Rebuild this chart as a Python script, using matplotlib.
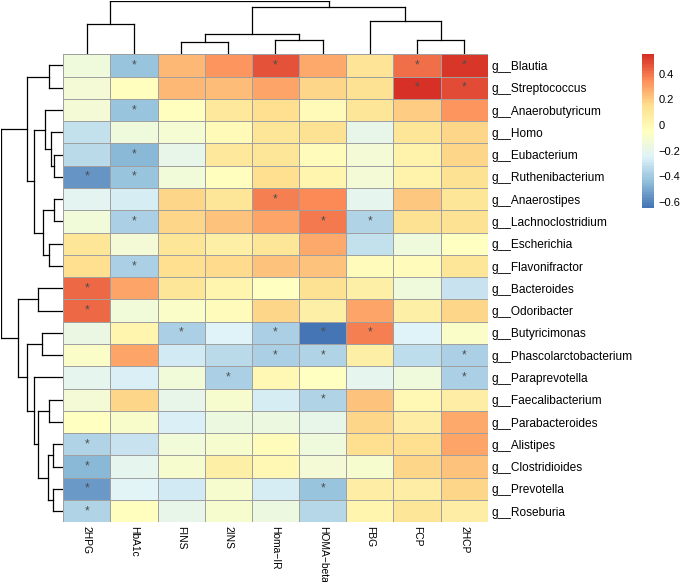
import numpy as np
import matplotlib
matplotlib.use("Agg")
import matplotlib.pyplot as plt
from matplotlib.colors import LinearSegmentedColormap, Normalize

plt.rcParams['font.family'] = ['Liberation Sans', 'DejaVu Sans']

# ---------------- data ----------------
columns = ["2HPG", "HbA1c", "FINS", "2INS", "Homa\u2212IR", "HOMA\u2212beta", "FBG", "FCP", "2HCP"]
rows = ["g__Blautia", "g__Streptococcus", "g__Anaerobutyricum", "g__Homo", "g__Eubacterium",
        "g__Ruthenibacterium", "g__Anaerostipes", "g__Lachnoclostridium", "g__Escherichia",
        "g__Flavonifractor", "g__Bacteroides", "g__Odoribacter", "g__Butyricimonas",
        "g__Phascolarctobacterium", "g__Paraprevotella", "g__Faecalibacterium",
        "g__Parabacteroides", "g__Alistipes", "g__Clostridioides", "g__Prevotella", "g__Roseburia"]

values = np.array([
    [-0.15, -0.42,  0.25,  0.33,  0.48,  0.28,  0.13,  0.42,  0.53],
    [-0.13, -0.04,  0.25,  0.23,  0.30,  0.17,  0.14,  0.552, 0.49],
    [-0.13, -0.42, -0.04,  0.10,  0.15, -0.02,  0.12,  0.20,  0.33],
    [-0.32, -0.15, -0.11, -0.02,  0.12,  0.14, -0.20,  0.12,  0.18],
    [-0.34, -0.46, -0.20,  0.10,  0.12, -0.03, -0.13,  0.03,  0.18],
    [-0.56, -0.42, -0.14, -0.04,  0.15,  0.02, -0.13,  0.03,  0.14],
    [-0.22, -0.27,  0.18,  0.12,  0.38,  0.36, -0.21,  0.21,  0.12],
    [-0.14, -0.38,  0.18,  0.22,  0.30,  0.39, -0.37,  0.14,  0.14],
    [ 0.12, -0.13,  0.12,  0.05,  0.12,  0.28, -0.32, -0.15, -0.05],
    [ 0.15, -0.38,  0.15,  0.16,  0.22,  0.22, -0.03, -0.03,  0.12],
    [ 0.43,  0.30,  0.12,  0.02, -0.05,  0.14,  0.05, -0.15, -0.30],
    [ 0.43, -0.14, -0.08, -0.03,  0.17,  0.06,  0.30,  0.05,  0.17],
    [-0.17,  0.02, -0.38, -0.25, -0.38, -0.646, 0.38, -0.25, -0.08],
    [-0.08,  0.30, -0.28, -0.34, -0.38, -0.36,  0.05, -0.33, -0.38],
    [-0.21, -0.26, -0.14, -0.38, -0.01, -0.05, -0.21, -0.15, -0.38],
    [-0.13,  0.17, -0.20, -0.10, -0.27, -0.37,  0.22, -0.01,  0.07],
    [-0.05, -0.09, -0.26, -0.16, -0.16, -0.20,  0.17,  0.07,  0.28],
    [-0.37, -0.30, -0.14, -0.10, -0.03, -0.15,  0.15,  0.15,  0.30],
    [-0.46, -0.21, -0.10,  0.06, -0.01, -0.13, -0.10,  0.17,  0.22],
    [-0.54, -0.23, -0.28, -0.10, -0.27, -0.42,  0.07,  0.07,  0.18],
    [-0.37, -0.04, -0.20, -0.10, -0.16, -0.35,  0.02,  0.12,  0.07],
])

stars = np.array([
    [0, 1, 0, 0, 1, 0, 0, 1, 1],
    [0, 0, 0, 0, 0, 0, 0, 1, 1],
    [0, 1, 0, 0, 0, 0, 0, 0, 0],
    [0, 0, 0, 0, 0, 0, 0, 0, 0],
    [0, 1, 0, 0, 0, 0, 0, 0, 0],
    [1, 1, 0, 0, 0, 0, 0, 0, 0],
    [0, 0, 0, 0, 1, 0, 0, 0, 0],
    [0, 1, 0, 0, 0, 1, 1, 0, 0],
    [0, 0, 0, 0, 0, 0, 0, 0, 0],
    [0, 1, 0, 0, 0, 0, 0, 0, 0],
    [1, 0, 0, 0, 0, 0, 0, 0, 0],
    [1, 0, 0, 0, 0, 0, 0, 0, 0],
    [0, 0, 1, 0, 1, 1, 1, 0, 0],
    [0, 0, 0, 0, 1, 1, 0, 0, 1],
    [0, 0, 0, 1, 0, 0, 0, 0, 1],
    [0, 0, 0, 0, 0, 1, 0, 0, 0],
    [0, 0, 0, 0, 0, 0, 0, 0, 0],
    [1, 0, 0, 0, 0, 0, 0, 0, 0],
    [1, 0, 0, 0, 0, 0, 0, 0, 0],
    [1, 0, 0, 0, 0, 1, 0, 0, 0],
    [1, 0, 0, 0, 0, 0, 0, 0, 0],
], dtype=bool)

# dendrogram trees: (merge height, left, right); leaves are row/column indices
row_tree = (187,
            (108, (44, 0, 1),
                  (87, (55, 2, (38, 3, (27, 4, 5))),
                       (60, (29, 6, 7), (42, 8, 9)))),
            (135, (75, 10, 11),
                  (110, (64, 12, 13),
                        (87, 14, (75, (42, 15, 16),
                                      (45, (30, 17, 18), (32, 19, 20)))))))
col_tree = (160, (89, 0, 1),
            (140, (62, (38, 2, 3), (44, 4, 5)),
                  (98, 6, (44, 7, 8))))

cbar_ticks = [-0.6, -0.4, -0.2, 0, 0.2, 0.4]
cbar_labels = ["\u22120.6", "\u22120.4", "\u22120.2", "0", "0.2", "0.4"]

# ---------------- style ----------------
palette = ["#4575B4", "#91BFDB", "#E0F3F8", "#FFFFBF", "#FEE090", "#FC8D59", "#D73027"]
cmap = LinearSegmentedColormap.from_list("pheat", palette, N=100)
vmin, vmax = values.min(), values.max()
norm = Normalize(vmin=vmin, vmax=vmax)
FS_ROW = 8.6
FS_COL = 7.4
FS_CB = 8.0

W, H = 682, 582
fig = plt.figure(figsize=(W / 100, H / 100), dpi=100)

def rect(x0, y0, x1, y1):
    return [x0 / W, 1 - y1 / H, (x1 - x0) / W, (y1 - y0) / H]

hx0, hy0, hx1, hy1 = 63.3, 54.3, 487.7, 522.3
ax = fig.add_axes(rect(hx0, hy0, hx1, hy1))
nr, nc = values.shape
ax.pcolormesh(np.arange(nc + 1), np.arange(nr + 1), values, cmap=cmap, norm=norm,
              edgecolors="#A0A0A0", linewidth=0.55)
ax.set_xlim(0, nc)
ax.set_ylim(nr, 0)
for s in ax.spines.values():
    s.set_visible(False)
for i in range(nr):
    for j in range(nc):
        if stars[i, j]:
            ax.text(j + 0.5, i + 0.5, "*", ha="center", va="center", fontsize=8.6, color="#4D4D4D")
ax.set_xticks(np.arange(nc) + 0.5)
ax.set_xticklabels(columns, rotation=-90, fontsize=FS_COL, va="top", ha="center")
ax.set_yticks(np.arange(nr) + 0.5)
ax.set_yticklabels(rows, fontsize=FS_ROW)
ax.yaxis.tick_right()
ax.tick_params(axis="both", length=0)
ax.tick_params(axis="x", pad=2.7)
ax.tick_params(axis="y", pad=3)

def draw_tree(a, node, horizontal):
    if isinstance(node, int):
        return node + 0.5, 0.0
    h, l, r = node
    pl, hl = draw_tree(a, l, horizontal)
    pr, hr = draw_tree(a, r, horizontal)
    segs = [([pl, pl], [hl, h]), ([pr, pr], [hr, h]), ([pl, pr], [h, h])]
    for p, q in segs:
        if horizontal:
            a.plot(q, p, color="black", lw=0.9, solid_capstyle="projecting")
        else:
            a.plot(p, q, color="black", lw=0.9, solid_capstyle="projecting")
    return (pl + pr) / 2, h

# column dendrogram
axc = fig.add_axes(rect(hx0, 0.7, hx1, hy0))
draw_tree(axc, col_tree, horizontal=False)
axc.set_xlim(0, nc)
axc.set_ylim(0, col_tree[0])
axc.axis("off")

# row dendrogram
axr = fig.add_axes(rect(1.0, hy0, hx0, hy1))
draw_tree(axr, row_tree, horizontal=True)
axr.set_ylim(nr, 0)
axr.set_xlim(row_tree[0], 0)
axr.axis("off")

# colorbar
axb = fig.add_axes(rect(642, 54.3, 654, 207.7))
sm = matplotlib.cm.ScalarMappable(norm=norm, cmap=cmap)
cb = fig.colorbar(sm, cax=axb, ticks=cbar_ticks)
cb.outline.set_visible(False)
cb.ax.minorticks_off()
cb.ax.set_yticklabels(cbar_labels, fontsize=FS_CB)
cb.ax.tick_params(length=0, pad=3.3)

fig.savefig("out.png", dpi=100)
